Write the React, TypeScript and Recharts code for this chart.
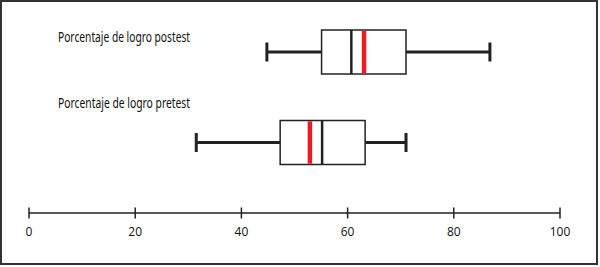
// Box plot of "porcentaje de logro" pretest vs postest, with mean marked in red.
import { ComposedChart, Bar, XAxis, YAxis } from "recharts";

const GROUPS = ["Porcentaje de logro postest", "Porcentaje de logro pretest"];
const MIN_VALUES = [44.8, 31.5];
const Q1_VALUES = [55.1, 47.3];
const MEDIAN_VALUES = [60.7, 55.2];
const MEAN_VALUES = [63.1, 52.9];
const Q3_VALUES = [71.0, 63.3];
const MAX_VALUES = [86.8, 71.0];
const X_TICKS = [0, 20, 40, 60, 80, 100];

const data = GROUPS.map((name, i) => ({
  name,
  min: MIN_VALUES[i],
  q1: Q1_VALUES[i],
  median: MEDIAN_VALUES[i],
  mean: MEAN_VALUES[i],
  q3: Q3_VALUES[i],
  max: MAX_VALUES[i],
}));

const INK = "#222";
const RED = "#ed1c24";
// label baseline offset from each row's centre
const LABEL_DY = [-10, -35];

function BoxShape(props: any) {
  const { x, y, width, height, payload } = props;
  const d = payload;
  // the bar spans [min, max]; map other stats through the same scale
  const px = (v: number) => x + ((v - d.min) / (d.max - d.min)) * width;
  const cy = y + height / 2;
  return (
    <g>
      <line x1={px(d.min)} x2={px(d.q1)} y1={cy} y2={cy} stroke={INK} strokeWidth={3} />
      <line x1={px(d.q3)} x2={px(d.max)} y1={cy} y2={cy} stroke={INK} strokeWidth={3} />
      <line x1={px(d.min)} x2={px(d.min)} y1={cy - 9.5} y2={cy + 9.5} stroke={INK} strokeWidth={3} />
      <line x1={px(d.max)} x2={px(d.max)} y1={cy - 9.5} y2={cy + 9.5} stroke={INK} strokeWidth={3} />
      <rect x={px(d.q1)} y={y} width={px(d.q3) - px(d.q1)} height={height} fill="#fff" stroke={INK} strokeWidth={1.5} />
      <line x1={px(d.median)} x2={px(d.median)} y1={y} y2={y + height} stroke={INK} strokeWidth={2.5} />
      <line x1={px(d.mean)} x2={px(d.mean)} y1={y + 0.8} y2={y + height - 0.8} stroke={RED} strokeWidth={4.5} />
    </g>
  );
}

function GroupTick(props: any) {
  const { y, payload } = props;
  const i = Math.max(0, GROUPS.indexOf(payload.value));
  return (
    <text
      x={56}
      y={y + LABEL_DY[i]}
      fontFamily="'Liberation Sans Narrow', 'Noto Sans', sans-serif"
      fontSize={15}
      fill="#111"
      textLength={132}
      lengthAdjust="spacingAndGlyphs"
    >
      {payload.value}
    </text>
  );
}

function ValueTick(props: any) {
  const { x, y, payload } = props;
  return (
    <g>
      <line x1={x} x2={x} y1={y - 5.5} y2={y + 5.5} stroke={INK} strokeWidth={1.5} />
      <text x={x} y={y + 22.5} textAnchor="middle" fontFamily="'Open Sans', sans-serif" fontSize={12} fill="#111" stroke="none">
        {payload.value}
      </text>
    </g>
  );
}

export default function App() {
  return (
    <div
      style={{
        position: "absolute",
        left: 0,
        top: 0,
        width: 598,
        height: 265,
        border: "2px solid #333",
        boxSizing: "border-box",
        background: "#fff",
      }}
    >
      <ComposedChart
        width={594}
        height={261}
        data={data}
        layout="vertical"
        margin={{ top: 5, right: 36, bottom: 20, left: 26 }}
      >
        <XAxis
          type="number"
          domain={[0, 100]}
          ticks={X_TICKS}
          interval={0}
          height={30}
          tickSize={0}
          tickMargin={0}
          tickLine={false}
          axisLine={{ stroke: INK, strokeWidth: 1.5 }}
          tick={<ValueTick />}
        />
        <YAxis
          type="category"
          dataKey="name"
          width={1}
          interval={0}
          axisLine={false}
          tickLine={false}
          padding={{ top: 0, bottom: 25 }}
          tick={<GroupTick />}
        />
        <Bar dataKey={(d: any) => [d.min, d.max]} barSize={44} shape={<BoxShape />} isAnimationActive={false} />
      </ComposedChart>
    </div>
  );
}
